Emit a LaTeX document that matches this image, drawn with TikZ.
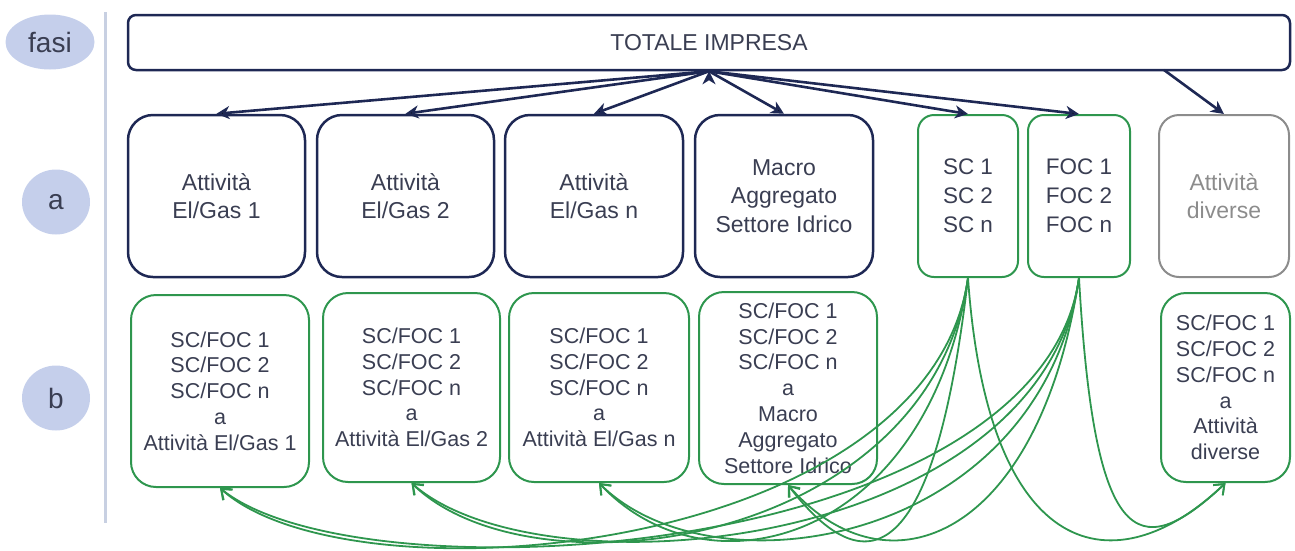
\documentclass[tikz,border=0pt]{standalone}
\usepackage{fontspec}
\setmainfont{Liberation Sans}
\usetikzlibrary{arrows.meta,shapes.geometric}

\definecolor{blu}{RGB}{30,40,84}
\definecolor{verde}{RGB}{46,150,78}
\definecolor{grigio}{RGB}{140,140,140}
\definecolor{testo}{RGB}{58,62,82}
\definecolor{fase}{RGB}{197,207,235}
\definecolor{riga}{RGB}{200,208,226}

\begin{document}
\begin{tikzpicture}[x=1pt,y=1pt]
	\tikzset{box/.style={rounded corners=25pt,line width=2.5pt,inner sep=0pt,align=center,text=testo},
		abox/.style={box,draw=blu,minimum height=162pt,font=\fontsize{23}{28.5}\selectfont},
		scbox/.style={box,draw=verde,line width=2pt,rounded corners=16pt,minimum height=162pt,font=\fontsize{22.5}{28.8}\selectfont},
		bbox/.style={box,draw=verde,line width=2pt,minimum height=189pt,font=\fontsize{21.5}{25.8}\selectfont},
		fasebox/.style={ellipse,fill=fase,inner sep=0pt,text=testo,font=\fontsize{28}{30}\selectfont},
		freccia/.style={draw=blu,line width=2.6pt,-{Stealth[length=13pt,width=13pt,inset=4pt]}},
		flusso/.style={draw=verde,line width=1.8pt,-{Straight Barb[length=9pt,width=14pt]}}}
	\useasboundingbox (0,0) rectangle (1295,-550);

	%% fasi
	\node[fasebox,minimum width=89pt,minimum height=55pt] (lfasi) at (50,-42) {fasi};
	\node[fasebox,minimum width=68pt,minimum height=65pt] (la) at (56,-202) {a};
	\node[fasebox,minimum width=68pt,minimum height=65pt] (lb) at (56,-398) {b};
	\draw[riga,line width=3pt] (105,-12) -- (105,-523);

	%% totale
	\node[box,draw=blu,rounded corners=8pt,minimum width=1162pt,minimum height=55pt,font=\fontsize{23}{28}\selectfont] (tot) at (709,-42.5) {TOTALE IMPRESA};

	%% fase a
	\node[abox,minimum width=177pt] (a1) at (216.5,-196) {Attività\\El/Gas 1};
	\node[abox,minimum width=177pt] (a2) at (405.5,-196) {Attività\\El/Gas 2};
	\node[abox,minimum width=178pt] (an) at (594,-196) {Attività\\El/Gas n};
	\node[abox,minimum width=178pt] (idr) at (784,-196) {Macro\\Aggregato\\Settore Idrico};
	\node[scbox,minimum width=100pt] (sc) at (968,-196) {SC 1\\SC 2\\SC n};
	\node[scbox,minimum width=102pt] (foc) at (1079,-196) {FOC 1\\FOC 2\\FOC n};
	\node[abox,draw=grigio,text=grigio,line width=2pt,rounded corners=20pt,minimum width=130pt] (div) at (1224,-196) {Attività\\diverse};

	%% fase b
	\node[bbox,minimum width=178pt,minimum height=192pt] (b1) at (220,-391) {SC/FOC 1\\SC/FOC 2\\SC/FOC n\\a\\Attività El/Gas 1};
	\node[bbox,minimum width=177pt] (b2) at (411.5,-387.5) {SC/FOC 1\\SC/FOC 2\\SC/FOC n\\a\\Attività El/Gas 2};
	\node[bbox,minimum width=180pt] (bn) at (599,-387.5) {SC/FOC 1\\SC/FOC 2\\SC/FOC n\\a\\Attività El/Gas n};
	\node[bbox,minimum width=178pt,minimum height=192pt] (bidr) at (788,-388) {SC/FOC 1\\SC/FOC 2\\SC/FOC n\\a\\Macro\\Aggregato\\Settore Idrico};
	\node[bbox,minimum width=129pt] (bdiv) at (1225.5,-387.5) {SC/FOC 1\\SC/FOC 2\\SC/FOC n\\a\\Attività\\diverse};

	%% frecce dal totale
	\path[freccia]
		(tot.south) edge (a1.north)
		(tot.south) edge (a2.north)
		(tot.south) edge (an.north)
		(tot.south) edge (idr.north)
		(tot.south) edge (sc.north)
		(tot.south) edge (foc.north);
	\coordinate (tdiv) at (1164,-70);
	\draw[freccia] (tdiv) -- (div.north);

	%% ribaltamenti SC/FOC
	\draw[flusso] (sc.south) .. controls +(-40,-278) and +(130,-118) .. (b1.south);
	\draw[flusso] (sc.south) .. controls +(-40,-270) and +(120,-117) .. (b2.south);
	\draw[flusso] (sc.south) .. controls +(-40,-264) and +(110,-117) .. (bn.south);
	\draw[flusso] (sc.south) .. controls +(-30,-258) and +(90,-117) .. (bidr.south);
	\draw[flusso] (sc.south) .. controls +(20,-285) and +(-110,-105) .. (bdiv.south);
	\draw[flusso] (foc.south) .. controls +(-40,-282) and +(140,-114) .. (b1.south);
	\draw[flusso] (foc.south) .. controls +(-40,-274) and +(130,-114) .. (b2.south);
	\draw[flusso] (foc.south) .. controls +(-40,-267) and +(115,-114) .. (bn.south);
	\draw[flusso] (foc.south) .. controls +(-40,-260) and +(100,-114) .. (bidr.south);
	\draw[flusso] (foc.south) .. controls +(15,-265) and +(-90,-85) .. (bdiv.south);
\end{tikzpicture}
\end{document}
